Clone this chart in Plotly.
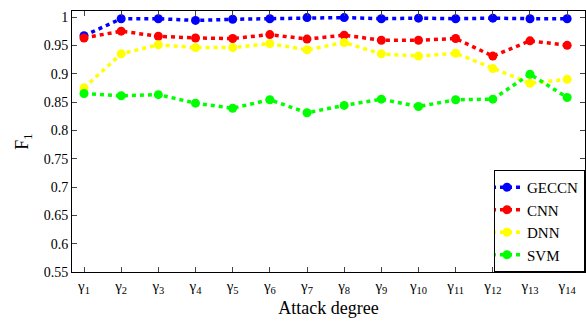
import plotly.graph_objects as go

categories = [f"γ<sub>{i}</sub>" for i in range(1, 15)]
x_idx = list(range(1, 15))

geccn = [0.967, 0.997, 0.997, 0.994, 0.996, 0.997, 0.999, 0.999, 0.997, 0.998, 0.997, 0.998, 0.997, 0.997]
cnn   = [0.963, 0.975, 0.966, 0.963, 0.962, 0.969, 0.961, 0.968, 0.959, 0.959, 0.962, 0.931, 0.958, 0.950]
dnn   = [0.875, 0.935, 0.951, 0.946, 0.946, 0.953, 0.942, 0.955, 0.935, 0.931, 0.936, 0.909, 0.883, 0.890]
svm   = [0.865, 0.861, 0.863, 0.848, 0.839, 0.854, 0.831, 0.844, 0.855, 0.842, 0.854, 0.855, 0.899, 0.858]

series = [("GECCN", geccn, "#0000ff"), ("CNN", cnn, "#ff0000"),
          ("DNN", dnn, "#ffff00"), ("SVM", svm, "#00ff00")]

y_ticks = [0.55, 0.6, 0.65, 0.7, 0.75, 0.8, 0.85, 0.9, 0.95, 1.0]
y_ticktext = ["0.55", "0.6", "0.65", "0.7", "0.75", "0.8", "0.85", "0.9", "0.95", "1"]

fig = go.Figure()
for name, vals, col in series:
    fig.add_trace(go.Scatter(
        x=x_idx, y=vals, name=name, mode="lines+markers",
        line=dict(color=col, width=3.5, dash="4px,4px"),
        marker=dict(color=col, size=9, symbol="circle"),
    ))

font = "Liberation Serif, Times New Roman, serif"
fig.update_layout(
    width=586, height=324,
    margin=dict(l=72, r=1, t=11, b=52),
    plot_bgcolor="white", paper_bgcolor="white",
    font=dict(family=font, size=14, color="black"),
    showlegend=True,
    legend=dict(x=1, y=0, xanchor="right", yanchor="bottom",
                bordercolor="black", borderwidth=1, bgcolor="white",
                font=dict(size=15, family=font), itemwidth=30,
                tracegroupgap=0, indentation=-8),
    xaxis=dict(range=[0.677, 14.48], tickmode="array", tickvals=x_idx, ticktext=categories,
               ticks="inside", ticklen=5, mirror="ticks", showline=True, linecolor="black",
               linewidth=1, showgrid=False, zeroline=False,
               title=dict(text="Attack degree", font=dict(size=18, family=font), standoff=6),
               tickfont=dict(size=15, family=font)),
    yaxis=dict(range=[0.55, 1.0106], tickmode="array", tickvals=y_ticks, ticktext=y_ticktext,
               ticks="inside", ticklen=5, mirror="ticks", showline=True, linecolor="black",
               linewidth=1, showgrid=False, zeroline=False,
               title=dict(text="F<sub>1</sub>", font=dict(size=18, family=font), standoff=10),
               tickfont=dict(size=14, family=font)),
)

fig.write_html("out.html")
